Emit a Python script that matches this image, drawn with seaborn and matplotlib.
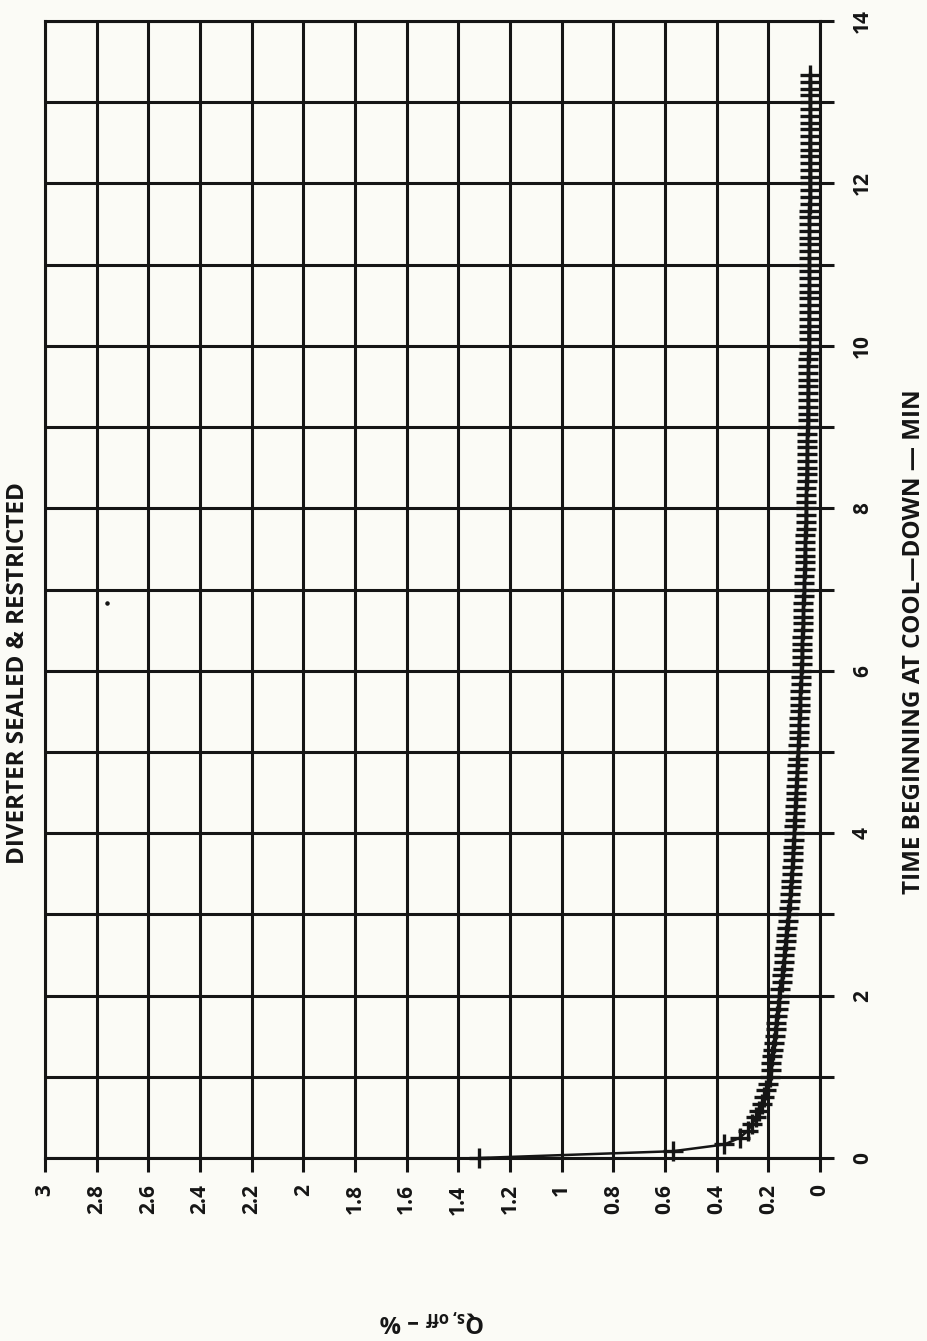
import matplotlib
matplotlib.use("Agg")
import matplotlib.pyplot as plt
import seaborn as sns
import pandas as pd

# ---------------- data ----------------
TITLE = "DIVERTER SEALED & RESTRICTED"
TIME_LABEL = "TIME BEGINNING AT COOL\u2014DOWN \u2014 MIN"
Q_LABEL = "Q$_{s,off}$ \u2013 %"

# sample times in seconds (one reading every 5 s)
TIME_S = [
    0, 5, 10, 15, 20, 25, 30, 35, 40, 45, 50, 55,
    60, 65, 70, 75, 80, 85, 90, 95, 100, 105, 110, 115,
    120, 125, 130, 135, 140, 145, 150, 155, 160, 165, 170, 175,
    180, 185, 190, 195, 200, 205, 210, 215, 220, 225, 230, 235,
    240, 245, 250, 255, 260, 265, 270, 275, 280, 285, 290, 295,
    300, 305, 310, 315, 320, 325, 330, 335, 340, 345, 350, 355,
    360, 365, 370, 375, 380, 385, 390, 395, 400, 405, 410, 415,
    420, 425, 430, 435, 440, 445, 450, 455, 460, 465, 470, 475,
    480, 485, 490, 495, 500, 505, 510, 515, 520, 525, 530, 535,
    540, 545, 550, 555, 560, 565, 570, 575, 580, 585, 590, 595,
    600, 605, 610, 615, 620, 625, 630, 635, 640, 645, 650, 655,
    660, 665, 670, 675, 680, 685, 690, 695, 700, 705, 710, 715,
    720, 725, 730, 735, 740, 745, 750, 755, 760, 765, 770, 775,
    780, 785, 790, 795, 800,
]

# Q_s,off (%)
Q_OFF = [
    1.32, 0.57, 0.37, 0.31, 0.28, 0.262, 0.248, 0.236, 0.226, 0.217, 0.209, 0.201,
    0.194, 0.191, 0.188, 0.184, 0.181, 0.178, 0.175, 0.172, 0.169, 0.166, 0.163, 0.160,
    0.157, 0.153, 0.149, 0.146, 0.143, 0.140, 0.138, 0.135, 0.133, 0.130, 0.128, 0.125,
    0.122, 0.120, 0.117, 0.115, 0.113, 0.111, 0.109, 0.108, 0.106, 0.105, 0.103, 0.102,
    0.100, 0.099, 0.098, 0.096, 0.095, 0.094, 0.093, 0.091, 0.090, 0.089, 0.088, 0.086,
    0.085, 0.084, 0.083, 0.082, 0.081, 0.080, 0.079, 0.078, 0.077, 0.076, 0.074, 0.073,
    0.072, 0.071, 0.070, 0.070, 0.069, 0.068, 0.067, 0.066, 0.065, 0.064, 0.064, 0.063,
    0.062, 0.061, 0.061, 0.060, 0.059, 0.059, 0.058, 0.057, 0.057, 0.056, 0.055, 0.055,
    0.054, 0.054, 0.053, 0.053, 0.052, 0.052, 0.051, 0.051, 0.050, 0.050, 0.049, 0.049,
    0.048, 0.048, 0.048, 0.047, 0.047, 0.047, 0.046, 0.046, 0.046, 0.045, 0.045, 0.044,
    0.044, 0.044, 0.044, 0.044, 0.043, 0.043, 0.043, 0.043, 0.043, 0.042, 0.042, 0.042,
    0.042, 0.042, 0.042, 0.041, 0.041, 0.041, 0.041, 0.041, 0.041, 0.040, 0.040, 0.040,
    0.040, 0.040, 0.040, 0.040, 0.040, 0.040, 0.040, 0.039, 0.039, 0.039, 0.039, 0.039,
    0.039, 0.039, 0.039, 0.039, 0.039,
]

# stray plotter dot
STRAY_Q = [2.76]
STRAY_T = [6.83]

Q_TICKS = [3, 2.8, 2.6, 2.4, 2.2, 2, 1.8, 1.6, 1.4, 1.2, 1, 0.8, 0.6, 0.4, 0.2, 0]
Q_TICK_LABELS = ["3", "2.8", "2.6", "2.4", "2.2", "2", "1.8", "1.6", "1.4", "1.2",
                 "1", "0.8", "0.6", "0.4", "0.2", "0"]
T_TICKS = [0, 1, 2, 3, 4, 5, 6, 7, 8, 9, 10, 11, 12, 13, 14]
T_TICK_LABELS = ["0", "", "2", "", "4", "", "6", "", "8", "", "10", "", "12", "", "14"]

# ---------------- figure ----------------
sns.set_theme(style="white")
plt.rcParams["font.family"] = ["Open Sans", "DejaVu Sans"]
plt.rcParams["font.weight"] = "bold"
plt.rcParams["mathtext.fontset"] = "custom"
plt.rcParams["mathtext.rm"] = "Open Sans:bold"
plt.rcParams["mathtext.it"] = "Open Sans:bold"
plt.rcParams["mathtext.bf"] = "Open Sans:bold"

BG = "#fbfbf6"
INK = "#151515"
W, H = 928, 1341
fig = plt.figure(figsize=(W / 100, H / 100), dpi=100, facecolor=BG)
L, R, T, B = 45, 820, 21, 1158
ax = fig.add_axes([L / W, 1 - B / H, (R - L) / W, (B - T) / H])
ax.set_facecolor(BG)

df = pd.DataFrame({"q": Q_OFF, "t": [s / 60 for s in TIME_S]})
sns.lineplot(data=df, x="q", y="t", sort=False, estimator=None, orient="y",
             color=INK, linewidth=1.8, marker="+", markersize=14,
             markeredgewidth=2.4, markeredgecolor=INK, ax=ax, clip_on=False,
             zorder=5)
ax.scatter(STRAY_Q, STRAY_T, s=5, color=INK, zorder=5)

ax.set_xlim(3, 0)
ax.set_ylim(0, 14)
ax.set_xticks(Q_TICKS)
ax.set_xticklabels(Q_TICK_LABELS, rotation=90, fontsize=15, fontweight="bold")
ax.yaxis.tick_right()
ax.set_yticks(T_TICKS)
ax.set_yticklabels(T_TICK_LABELS, rotation=90, fontsize=15, fontweight="bold",
                   va="center")
for lab in ax.get_xticklabels():
    lab.set_va("top")
ax.tick_params(axis="x", bottom=True, direction="out", length=10, width=2.2,
               pad=9, colors=INK)
ax.tick_params(axis="y", right=True, left=False, direction="out", length=10,
               width=2.2, pad=13, colors=INK)
ax.grid(True, color=INK, linewidth=2.2)
for sp in ax.spines.values():
    sp.set_color(INK)
    sp.set_linewidth(2.2)
ax.set_xlabel("")
ax.set_ylabel("")

fig.text(18 / W, 1 - 673 / H, TITLE, rotation=90, ha="center", va="center",
         fontsize=17.5, fontweight="bold", color=INK)
fig.text(914 / W, 1 - 642 / H, TIME_LABEL, rotation=90, ha="center", va="center",
         fontsize=17.5, fontweight="bold", color=INK)
fig.text(432 / W, 1 - 1320 / H, Q_LABEL, rotation=180, ha="center", va="center",
         fontsize=17, fontweight="bold", color=INK)

fig.savefig("out.png", dpi=100, facecolor=BG)
